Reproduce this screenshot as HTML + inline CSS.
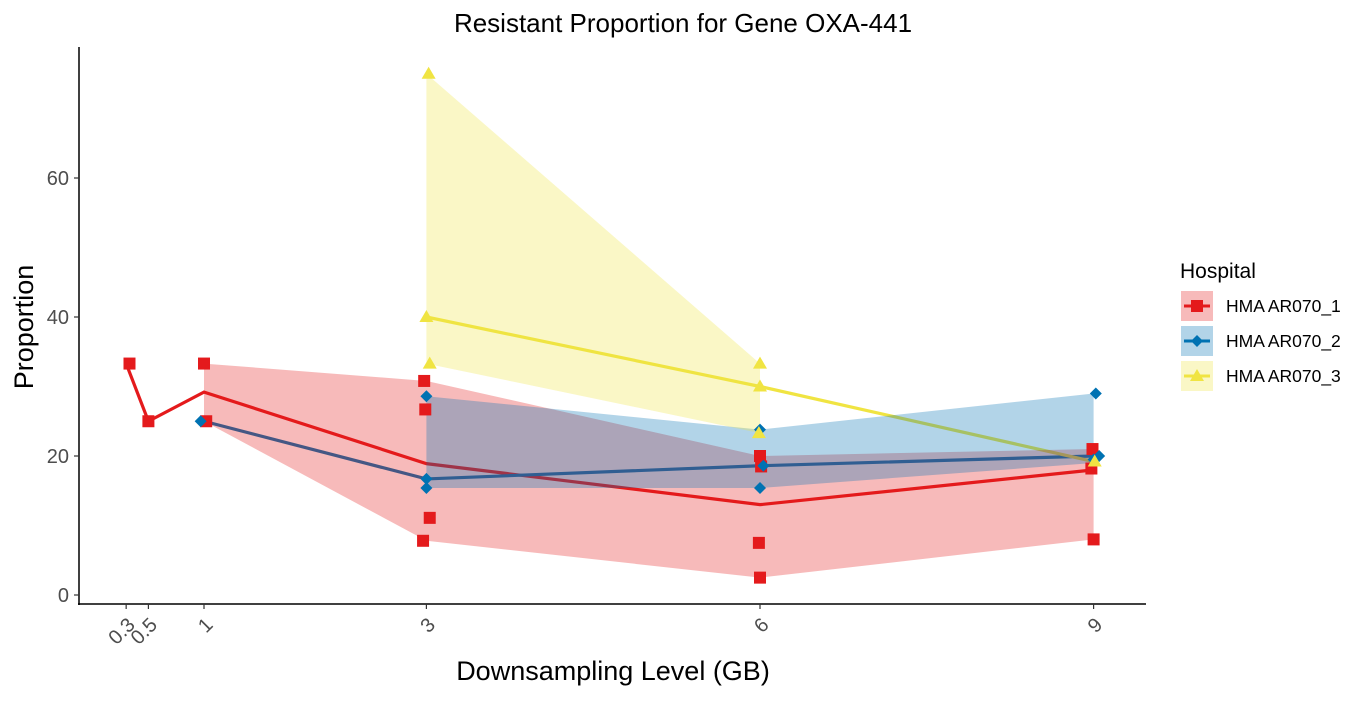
<!DOCTYPE html>
<html><head><meta charset="utf-8"><style>
body{margin:0;background:#fff;}
svg text{font-family:"Liberation Sans",Arial,sans-serif;}
</style></head><body>
<svg id="chart" width="1366" height="697" xmlns="http://www.w3.org/2000/svg">
<rect width="1366" height="697" fill="#fff"/>
<text x="683" y="32" font-size="26" text-anchor="middle" fill="#000">Resistant Proportion for Gene OXA-441</text>
<text transform="translate(33,327) rotate(-90)" font-size="27" text-anchor="middle" fill="#000">Proportion</text>
<text x="613" y="680" font-size="27" text-anchor="middle" fill="#000">Downsampling Level (GB)</text>
<g id="lines"></g><g id="ribbons"></g><g id="points"></g><g id="axes"></g>
<g>
<text x="1180" y="278" font-size="21" fill="#000">Hospital</text>
<g id="legend"></g>
</g>
</svg>
<script>
const xTicks=[0.3,0.5,1,3,6,9];
const yTicks=[0,20,40,60];
const groups=["HMA AR070_1","HMA AR070_2","HMA AR070_3"];
const meanX1=[0.3,0.5,1,3,6,9];
const meanY1=[33.3,25,29.2,18.9,13,18];
const meanX2=[1,3,6,9];
const meanY2=[25,16.7,18.6,20];
const meanX3=[3,6,9];
const meanY3=[40,30,19.2];
const ribX1=[1,3,6,9];const ribLo1=[25,7.8,2.5,8];const ribHi1=[33.3,30.8,20,21];
const ribX2=[3,6,9];const ribLo2=[15.4,15.4,19];const ribHi2=[28.6,23.8,29];
const ribX3=[3,6];const ribLo3=[33.3,23.3];const ribHi3=[75,33.3];
const ptX1=[0.33,0.5,1,1.02,2.98,2.99,3.03,2.97,6,6.01,5.99,6,8.99,8.98,9];
const ptY1=[33.3,25,33.3,25,30.8,26.7,11.1,7.8,20,18.5,7.5,2.5,21,18.2,8];
const ptX2=[0.97,3,3,3,6,6.03,6,9.02,9.05,9];
const ptY2=[25,28.6,16.7,15.4,23.8,18.6,15.4,29,20,19.5];
const ptX3=[3.02,3,3.03,6,6,5.99,9.01];
const ptY3=[75,40,33.3,33.3,30,23.3,19.2];

const NS="http://www.w3.org/2000/svg";
const X=v=>204+(v-1)*111.2;
const Y=v=>595-v*6.95;
function mk(tag,attrs,parent){const e=document.createElementNS(NS,tag);for(const k in attrs)e.setAttribute(k,attrs[k]);parent.appendChild(e);return e;}
const colors=["#E41A1C","#0072B2","#F0E442"];
const lines=document.getElementById('lines'),ribs=document.getElementById('ribbons'),pts=document.getElementById('points'),axes=document.getElementById('axes'),leg=document.getElementById('legend');
const means=[[meanX1,meanY1],[meanX2,meanY2],[meanX3,meanY3]];
const ribsD=[[ribX1,ribLo1,ribHi1],[ribX2,ribLo2,ribHi2],[ribX3,ribLo3,ribHi3]];
const ptsD=[[ptX1,ptY1],[ptX2,ptY2],[ptX3,ptY3]];
means.forEach((m,g)=>{
  const p=mk('polyline',{points:m[0].map((x,i)=>X(x)+','+Y(m[1][i])).join(' '),fill:'none',stroke:colors[g],'stroke-width':3.2},lines);
  
  
});
ribsD.forEach((r,g)=>{
  const up=r[0].map((x,i)=>X(x)+','+Y(r[2][i]));
  const lo=r[0].map((x,i)=>X(x)+','+Y(r[1][i])).reverse();
  const p=mk('polygon',{points:up.concat(lo).join(' '),fill:colors[g],'fill-opacity':0.3},ribs);
  
  
});
function marker(g,cx,cy,parent){
  let e;
  if(g===0)e=mk('rect',{x:cx-6,y:cy-6,width:12,height:12,fill:colors[0]},parent);
  else if(g===1)e=mk('polygon',{points:`${cx},${cy-6} ${cx+6},${cy} ${cx},${cy+6} ${cx-6},${cy}`,fill:colors[1]},parent);
  else e=mk('polygon',{points:`${cx},${cy-7} ${cx+7},${cy+5} ${cx-7},${cy+5}`,fill:colors[2]},parent);
  return e;
}
ptsD.forEach((p,g)=>{
  p[0].forEach((x,i)=>{
    const e=marker(g,X(x),Y(p[1][i]),pts);
    
    
  });
});
let a=mk('line',{x1:79,y1:47,x2:79,y2:605,stroke:'#000','stroke-width':1.5},axes);

a=mk('line',{x1:78,y1:604,x2:1146,y2:604,stroke:'#000','stroke-width':1.5},axes);

yTicks.forEach(v=>{
  mk('line',{x1:74,x2:79,y1:Y(v),y2:Y(v),stroke:'#333','stroke-width':1.2},axes);
  const t=mk('text',{x:69,y:Y(v)+7,'font-size':20,'text-anchor':'end',fill:'#4D4D4D'},axes);
  t.textContent=v;
  
  
});
xTicks.forEach(v=>{
  mk('line',{x1:X(v),x2:X(v),y1:604,y2:609,stroke:'#333','stroke-width':1.2},axes);
  const t=mk('text',{transform:`translate(${X(v)+10},${626}) rotate(-45)`,'font-size':20,'text-anchor':'end',fill:'#4D4D4D'},axes);
  t.textContent=v;
  
  
});
const rowY=[306,341,376];
groups.forEach((name,g)=>{
  const y=rowY[g];
  const r=mk('rect',{x:1181,y:y-15,width:32,height:30,fill:colors[g],'fill-opacity':0.3},leg);
  
  
  mk('line',{x1:1184,x2:1210,y1:y,y2:y,stroke:colors[g],'stroke-width':3},leg);
  marker(g,1197,y,leg);
  const t=mk('text',{x:1226,y:y+6,'font-size':17.5,fill:'#000'},leg);
  t.textContent=name;
  
  
});
</script>
</body></html>
